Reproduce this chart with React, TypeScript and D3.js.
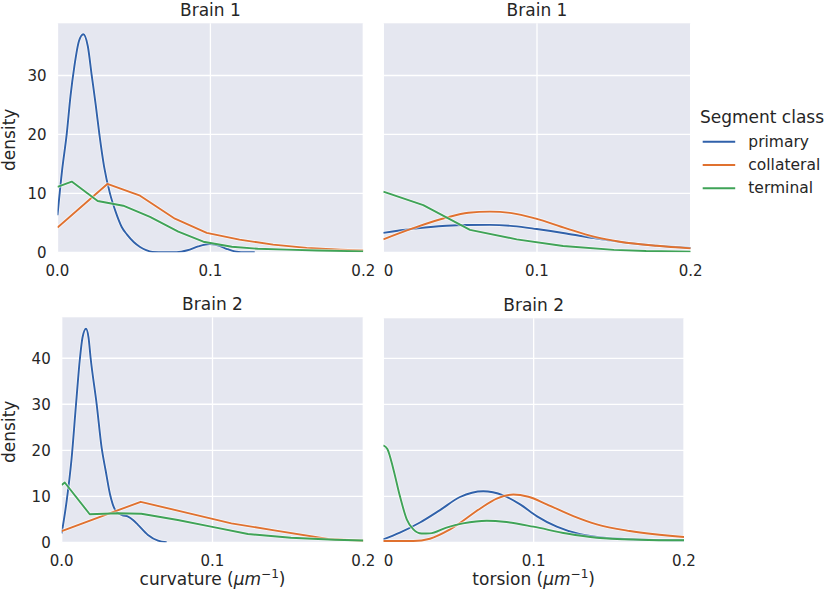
import * as d3 from 'd3'

type Pt = [number, number]

const classes = ['primary', 'collateral', 'terminal']
const colors = ['#3061aa', '#e0712f', '#3fa357']

const xTicks = [0, 0.1, 0.2]
const xTickLabelsLeft = ['0.0', '0.1', '0.2']
const xTickLabelsRight = ['0', '0.1', '0.2']
const yTicksTop = [0, 10, 20, 30]
const yTicksBottom = [0, 10, 20, 30, 40]

// Brain 1 - curvature
const b1CurvPrimary: Pt[] = [
  [0, 6.3], [0.003, 13.9], [0.006, 20], [0.0085, 26.5], [0.011, 31.5], [0.014, 35.8],
  [0.0169, 37], [0.0198, 35], [0.0224, 30], [0.025, 25], [0.0274, 20], [0.0305, 14.5],
  [0.0343, 10], [0.038, 6.9], [0.042, 4.3], [0.0455, 3], [0.05, 1.7], [0.054, 0.9],
  [0.058, 0.35], [0.062, 0.05], [0.07, 0], [0.078, 0.02], [0.085, 0.35], [0.092, 1.0],
  [0.0997, 1.4], [0.106, 1.1], [0.111, 0.55], [0.117, 0.1], [0.123, 0], [0.129, 0],
]
const b1CurvCollateral: Pt[] = [
  [0, 4.2], [0.0326, 11.6], [0.054, 9.6], [0.0768, 5.7], [0.0976, 3.3], [0.119, 2.15],
  [0.141, 1.3], [0.163, 0.75], [0.185, 0.45], [0.2, 0.32],
]
const b1CurvTerminal: Pt[] = [
  [0, 11.1], [0.0093, 12.0], [0.0263, 8.7], [0.043, 7.9], [0.0605, 6.0], [0.079, 3.5],
  [0.0954, 1.8], [0.114, 0.95], [0.131, 0.6], [0.15, 0.45], [0.17, 0.3], [0.2, 0.15],
]

// Brain 1 - torsion
const b1TorsPrimary: Pt[] = [
  [0, 3.3], [0.0195, 4.0], [0.041, 4.5], [0.054, 4.63], [0.0694, 4.65], [0.0846, 4.45],
  [0.0998, 3.95], [0.119, 3.2], [0.137, 2.4], [0.154, 1.75], [0.178, 1.1], [0.2, 0.75],
]
const b1TorsCollateral: Pt[] = [
  [0, 2.2], [0.0195, 4.1], [0.0412, 5.9], [0.0553, 6.7], [0.0694, 6.9], [0.0835, 6.65],
  [0.0987, 5.76], [0.119, 4.06], [0.137, 2.65], [0.154, 1.8], [0.178, 1.1], [0.2, 0.67],
]
const b1TorsTerminal: Pt[] = [
  [0, 10.3], [0.026, 8.0], [0.0564, 3.8], [0.0868, 2.2], [0.117, 1.07], [0.15, 0.42],
  [0.171, 0.22], [0.2, 0.12],
]

// Brain 2 - curvature
const b2CurvPrimary: Pt[] = [
  [0, 1.95], [0.0033, 9], [0.0065, 18], [0.0095, 30], [0.0121, 40], [0.0138, 44.5],
  [0.0161, 46.4], [0.0178, 44.5], [0.0192, 40], [0.0232, 30], [0.0265, 20.5], [0.0292, 15.5],
  [0.032, 10.5], [0.0362, 6.65], [0.04, 5.9], [0.044, 5.6], [0.0475, 4.8], [0.0506, 3.8],
  [0.0572, 1.6], [0.0639, 0.35], [0.0696, 0],
]
const b2CurvCollateral: Pt[] = [
  [0, 2.45], [0.0524, 8.8], [0.0825, 6.45], [0.1125, 4.1], [0.141, 2.6], [0.1766, 0.72],
  [0.2, 0.35],
]
const b2CurvTerminal: Pt[] = [
  [0, 12.45], [0.002, 13.0], [0.0186, 6.1], [0.0373, 6.3], [0.0528, 6.2], [0.077, 4.85],
  [0.099, 3.4], [0.1235, 1.8], [0.152, 1.0], [0.181, 0.57], [0.2, 0.4],
]

// Brain 2 - torsion
const b2TorsPrimary: Pt[] = [
  [0, 0.65], [0.011, 2.1], [0.0244, 4.3], [0.0377, 7.0], [0.051, 9.85], [0.0665, 11.1],
  [0.0798, 10.2], [0.091, 8.25], [0.102, 5.7], [0.1154, 3.4], [0.131, 1.74], [0.1486, 0.93],
  [0.175, 0.57], [0.2, 0.43],
]
const b2TorsCollateral: Pt[] = [
  [0, 0.28], [0.02, 0.28], [0.031, 0.78], [0.0444, 2.8], [0.0643, 7.3], [0.0754, 9.5],
  [0.0865, 10.4], [0.0965, 9.9], [0.1087, 8.26], [0.1264, 5.7], [0.142, 3.9], [0.164, 2.45],
  [0.2, 1.15],
]
const b2TorsTerminal: Pt[] = [
  [0, 21.1], [0.0027, 20.3], [0.0067, 15.9], [0.011, 10.1], [0.0156, 5.0], [0.02, 2.8],
  [0.0255, 1.9], [0.031, 1.95], [0.042, 3.2], [0.053, 4.1], [0.0688, 4.7], [0.082, 4.4],
  [0.0998, 3.4], [0.122, 1.9], [0.142, 1.0], [0.171, 0.57], [0.2, 0.43],
]

const FONT = 'DejaVu Sans, sans-serif'
const TEXT = '#262626'
const BG = '#e5e7f0'

interface Panel {
  id: string
  title: string
  left: number
  right: number
  top: number
  bottom: number
  yMax: number
  yTicks: number[]
  showY: boolean
  xLabels: string[]
  xLabel?: string
  series: { data: Pt[]; smooth: boolean }[]
}

const panels: Panel[] = [
  {
    id: 'tl', title: 'Brain 1', left: 57.5, right: 363.3, top: 23.3, bottom: 252.3, yMax: 38.86,
    yTicks: yTicksTop, showY: true, xLabels: xTickLabelsLeft,
    series: [
      { data: b1CurvPrimary, smooth: true },
      { data: b1CurvCollateral, smooth: false },
      { data: b1CurvTerminal, smooth: false },
    ],
  },
  {
    id: 'tr', title: 'Brain 1', left: 383.3, right: 690.7, top: 23.3, bottom: 252.3, yMax: 38.86,
    yTicks: yTicksTop, showY: false, xLabels: xTickLabelsRight,
    series: [
      { data: b1TorsPrimary, smooth: true },
      { data: b1TorsCollateral, smooth: true },
      { data: b1TorsTerminal, smooth: false },
    ],
  },
  {
    id: 'bl', title: 'Brain 2', left: 61.7, right: 363.3, top: 317.3, bottom: 542.3, yMax: 48.9,
    yTicks: yTicksBottom, showY: true, xLabels: xTickLabelsLeft, xLabel: 'curvature',
    series: [
      { data: b2CurvPrimary, smooth: true },
      { data: b2CurvCollateral, smooth: false },
      { data: b2CurvTerminal, smooth: false },
    ],
  },
  {
    id: 'br', title: 'Brain 2', left: 383.3, right: 684, top: 318.3, bottom: 542.3, yMax: 48.7,
    yTicks: yTicksBottom, showY: false, xLabels: xTickLabelsRight, xLabel: 'torsion',
    series: [
      { data: b2TorsPrimary, smooth: true },
      { data: b2TorsCollateral, smooth: true },
      { data: b2TorsTerminal, smooth: true },
    ],
  },
]

function PanelView({ p }: { p: Panel }) {
  const x = d3.scaleLinear().domain([0, 0.2]).range([p.left, p.right])
  const y = d3.scaleLinear().domain([0, p.yMax]).range([p.bottom, p.top])
  const cx = (p.left + p.right) / 2
  const cy = (p.top + p.bottom) / 2

  return (
    <g>
      <defs>
        <clipPath id={`clip-${p.id}`}>
          <rect x={p.left} y={p.top} width={p.right - p.left} height={p.bottom - p.top} />
        </clipPath>
      </defs>
      <rect x={p.left} y={p.top} width={p.right - p.left} height={p.bottom - p.top} fill={BG} />

      {/* grid */}
      {p.yTicks.map(t => (
        <line key={`gy${t}`} x1={p.left} x2={p.right} y1={y(t)} y2={y(t)} stroke="#fff" strokeWidth={1.3} />
      ))}
      {xTicks.map(t => (
        <line key={`gx${t}`} x1={x(t)} x2={x(t)} y1={p.top} y2={p.bottom} stroke="#fff" strokeWidth={1.3} />
      ))}

      {/* density curves */}
      <g clipPath={`url(#clip-${p.id})`}>
        {p.series.map((s, i) => {
          const line = d3
            .line<Pt>()
            .x(d => x(d[0]))
            .y(d => y(d[1]))
            .curve(s.smooth ? d3.curveMonotoneX : d3.curveLinear)
          const d = line(s.data) || ''
          return (
            <g key={i}>
              <path d={d} fill="none" stroke="#fff" strokeOpacity={0.55} strokeWidth={3.6} strokeLinejoin="round" />
              <path d={d} fill="none" stroke={colors[i]} strokeWidth={1.9} strokeLinejoin="round" />
            </g>
          )
        })}
      </g>

      {/* x tick labels */}
      {xTicks.map((t, i) => {
        const lbl = p.xLabels[i]
        const isBareZero = lbl === '0'
        return (
          <text
            key={`xl${t}`}
            x={x(t) + (isBareZero ? 0.5 : 0)}
            y={p.bottom + 24}
            textAnchor={isBareZero ? 'start' : 'middle'}
            fontSize={15}
            fill={TEXT}
            fontFamily={FONT}
          >
            {lbl}
          </text>
        )
      })}

      {/* y tick labels */}
      {p.showY &&
        p.yTicks.map(t => (
          <text
            key={`yl${t}`}
            x={p.left - 11}
            y={y(t)}
            dy="0.36em"
            textAnchor="end"
            fontSize={15}
            fill={TEXT}
            fontFamily={FONT}
          >
            {t}
          </text>
        ))}

      {p.showY && (
        <text
          transform={`translate(14.5,${cy + 2}) rotate(-90)`}
          textAnchor="middle"
          fontSize={17}
          fill={TEXT}
          fontFamily={FONT}
        >
          density
        </text>
      )}

      <text x={cx} y={p.top - 7.5} textAnchor="middle" fontSize={17} fill={TEXT} fontFamily={FONT}>
        {p.title}
      </text>

      {p.xLabel && (
        <text x={cx} y={585} textAnchor="middle" fontSize={17} fill={TEXT} fontFamily={FONT}>
          {p.xLabel} (<tspan fontStyle="italic">μm</tspan>
          <tspan dy={-7} fontSize={12}>−1</tspan>
          <tspan dy={7}>)</tspan>
        </text>
      )}
    </g>
  )
}

function Legend() {
  const lx = 702.7
  const ly = 141.7
  const step = 23.3
  return (
    <g fontFamily={FONT} fill={TEXT}>
      <text x={762} y={123.3} textAnchor="middle" fontSize={17}>
        Segment class
      </text>
      {classes.map((c, i) => (
        <g key={c}>
          <line x1={lx} x2={lx + 32.5} y1={ly + i * step} y2={ly + i * step} stroke={colors[i]} strokeWidth={1.9} />
          <text x={lx + 45.6} y={ly + i * step} dy="0.33em" fontSize={15.5}>
            {c}
          </text>
        </g>
      ))}
    </g>
  )
}

export default function App() {
  return (
    <svg
      width={829}
      height={594}
      style={{ position: 'absolute', left: 0, top: 0, background: '#fff' }}
    >
      <rect width={829} height={594} fill="#fff" />
      {panels.map(p => (
        <PanelView key={p.id} p={p} />
      ))}
      <Legend />
    </svg>
  )
}
